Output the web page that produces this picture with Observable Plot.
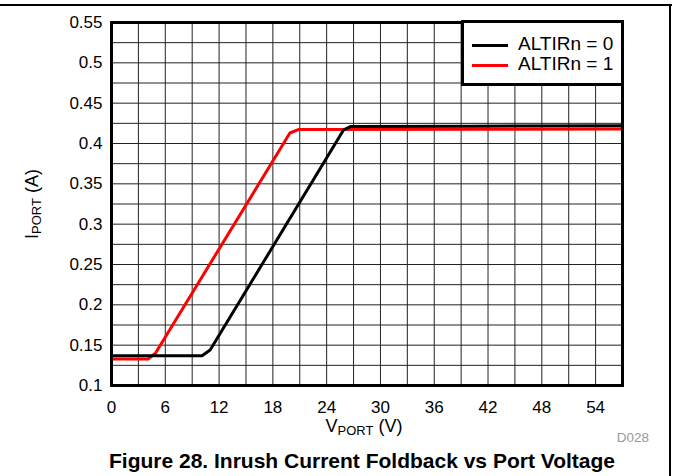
<!DOCTYPE html>
<html>
<head>
<meta charset="utf-8">
<script src="https://cdn.jsdelivr.net/npm/d3@7"></script>
<script src="https://cdn.jsdelivr.net/npm/@observablehq/plot@0.6"></script>
<style>
  html, body { margin: 0; padding: 0; background: #fff; }
  body { width: 673px; height: 476px; position: relative; overflow: hidden; font-family: "Liberation Sans", Arial, sans-serif; }
  #chart { position: absolute; left: 0; top: 0; }
  .frameTop { position: absolute; left: 0; top: 4px; width: 672px; height: 2px; background: #000; }
  .frameRight { position: absolute; left: 669px; top: 4px; width: 2px; height: 472px; background: #000; }
  #legend { position: absolute; left: 461px; top: 20px; width: 157px; height: 60px; border: 3px solid #000; background: #fff; }
  .lrow { position: absolute; left: 0; height: 20px; width: 157px; }
  .lline { position: absolute; left: 8px; width: 36px; height: 3px; top: 9px; }
  .ltext { position: absolute; left: 54px; top: -2px; font-size: 19px; line-height: 22px; color: #000; white-space: nowrap; }
  #title { position: absolute; left: 0; width: 724px; top: 448px; text-align: center; font-weight: bold; font-size: 21px; line-height: 26px; color: #000; }
  #code { position: absolute; right: 24px; top: 430px; font-size: 13.5px; color: #999; }
</style>
</head>
<body>
<div class="frameTop"></div>
<div class="frameRight"></div>
<div id="chart"></div>
<div id="legend"></div>
<div id="code">D028</div>
<div id="title">Figure 28. Inrush Current Foldback vs Port Voltage</div>
<script>
// Series data
const seriesNames = ["ALTIRn = 0", "ALTIRn = 1"];
const seriesColors = ["#000000", "#ff0000"];
const vPort0 = [0, 10.1, 11.0, 25.9, 26.7, 40, 57];
const iPort0 = [0.137, 0.137, 0.144, 0.417, 0.4212, 0.4215, 0.422];
const vPort1 = [0, 4.1, 4.9, 19.9, 20.9, 40, 57];
const iPort1 = [0.133, 0.133, 0.140, 0.413, 0.4175, 0.4177, 0.418];

// Axes
const xTicks = [0, 6, 12, 18, 24, 30, 36, 42, 48, 54];
const yTicks = [0.1, 0.15, 0.2, 0.25, 0.3, 0.35, 0.4, 0.45, 0.5, 0.55];
const xGrid = [3, 6, 9, 12, 15, 18, 21, 24, 27, 30, 33, 36, 39, 42, 45, 48, 51, 54];
const yGrid = [0.125, 0.15, 0.175, 0.2, 0.225, 0.25, 0.275, 0.3, 0.325, 0.35, 0.375, 0.4, 0.425, 0.45, 0.475, 0.5, 0.525];

const data0 = vPort0.map((v, i) => ({v, i: iPort0[i], s: seriesNames[0]}));
const data1 = vPort1.map((v, i) => ({v, i: iPort1[i], s: seriesNames[1]}));

const plot = Plot.plot({
  width: 673,
  height: 440,
  marginLeft: 111,
  marginRight: 51,
  marginTop: 22,
  marginBottom: 55,
  style: { fontFamily: '"Liberation Sans", Arial, sans-serif', color: "#000", background: "transparent" },
  x: { domain: [0, 57] },
  y: { domain: [0.1, 0.55] },
  marks: [
    Plot.ruleX(xGrid, { stroke: "#222", strokeWidth: 1 }),
    Plot.ruleY(yGrid, { stroke: "#222", strokeWidth: 1 }),
    Plot.line(data1, { x: "v", y: "i", stroke: seriesColors[1], strokeWidth: 3, strokeLinejoin: "miter", curve: "linear" }),
    Plot.line(data0, { x: "v", y: "i", stroke: seriesColors[0], strokeWidth: 3, strokeLinejoin: "miter", curve: "linear" }),
    Plot.frame({ stroke: "#000", strokeWidth: 3 }),
    Plot.axisX(xTicks, { tickSize: 0, tickPadding: 15, fontSize: 17, label: null }),
    Plot.axisY(yTicks, { tickSize: 0, tickPadding: 9, fontSize: 17, label: null, tickFormat: d => String(d) })
  ]
});
document.getElementById("chart").appendChild(plot);

// Axis titles with subscripts
const svg = d3.select(plot);
const xl = svg.append("text")
  .attr("x", 364).attr("y", 432)
  .attr("text-anchor", "middle")
  .attr("font-size", 18).attr("fill", "#000");
xl.append("tspan").text("V");
xl.append("tspan").attr("font-size", 13).attr("dy", 3).text("PORT");
xl.append("tspan").attr("dy", -3).text(" (V)");

const yl = svg.append("text")
  .attr("transform", "translate(38,204) rotate(-90)")
  .attr("text-anchor", "middle")
  .attr("font-size", 18).attr("fill", "#000");
yl.append("tspan").text("I");
yl.append("tspan").attr("font-size", 13).attr("dy", 3).text("PORT");
yl.append("tspan").attr("dy", -3).text(" (A)");

// Legend
const legend = document.getElementById("legend");
seriesNames.forEach((name, k) => {
  const row = document.createElement("div");
  row.className = "lrow";
  row.style.top = (12 + k * 20) + "px";
  const ln = document.createElement("div");
  ln.className = "lline";
  ln.style.background = seriesColors[k];
  const tx = document.createElement("div");
  tx.className = "ltext";
  tx.textContent = name;
  row.appendChild(ln);
  row.appendChild(tx);
  legend.appendChild(row);
});
</script>
</body>
</html>
